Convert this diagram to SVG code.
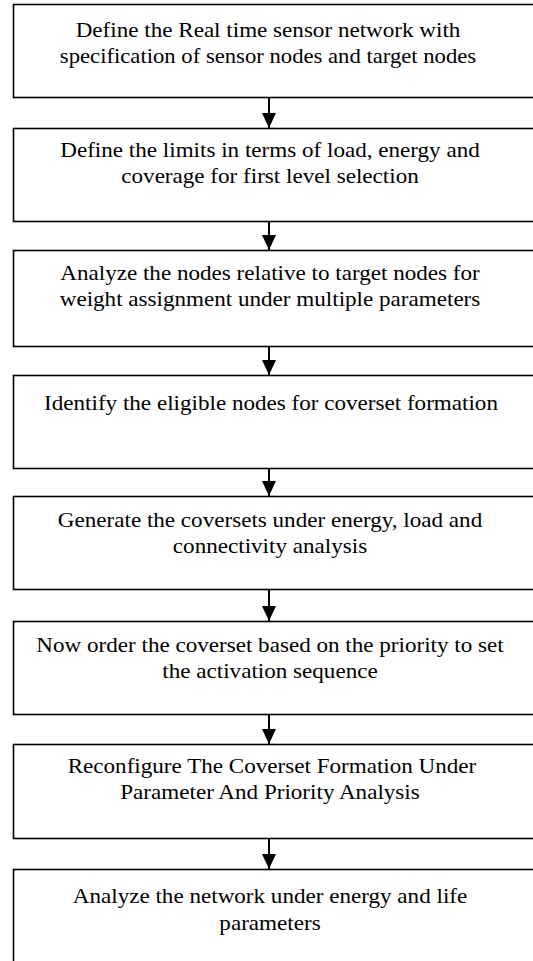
<svg xmlns="http://www.w3.org/2000/svg" width="533" height="961" viewBox="0 0 533 961">
<style>
.box{fill:#fff;stroke:#000;stroke-width:1.6}
.t{font-family:"Liberation Serif","Times New Roman",serif;font-size:21px;fill:#000;text-anchor:middle}
.c{stroke:#000;stroke-width:2;fill:none}
</style>
<defs>
<marker id="ah" markerWidth="15" markerHeight="14" refX="15" refY="7" orient="auto" markerUnits="userSpaceOnUse" viewBox="0 0 15 14">
<path d="M0,0 L15,7 L0,14 Z" fill="#000"/>
</marker>
</defs>
<rect width="533" height="961" fill="#fff"/>
<g id="n1"><rect class="box" x="13.5" y="4.5" width="540" height="93"/>
<text class="t" transform="translate(268,37) scale(1.1,1)">Define the Real time sensor network with</text>
<text class="t" transform="translate(268,63) scale(1.08,1)">specification of sensor nodes and target nodes</text></g>
<g id="n2"><rect class="box" x="13.5" y="128.5" width="540" height="93"/>
<text class="t" transform="translate(270,157) scale(1.1,1)">Define the limits in terms of load, energy and</text>
<text class="t" transform="translate(270,183) scale(1.1,1)">coverage for first level selection</text></g>
<g id="n3"><rect class="box" x="13.5" y="250.5" width="540" height="96"/>
<text class="t" transform="translate(270,280) scale(1.1,1)">Analyze the nodes relative to target nodes for</text>
<text class="t" transform="translate(270,306) scale(1.1,1)">weight assignment under multiple parameters</text></g>
<g id="n4"><rect class="box" x="13.5" y="375.5" width="540" height="93"/>
<text class="t" transform="translate(271,410) scale(1.1,1)">Identify the eligible nodes for coverset formation</text></g>
<g id="n5"><rect class="box" x="13.5" y="496.5" width="540" height="93"/>
<text class="t" transform="translate(270,527) scale(1.1,1)">Generate the coversets under energy, load and</text>
<text class="t" transform="translate(270,553) scale(1.1,1)">connectivity analysis</text></g>
<g id="n6"><rect class="box" x="13.5" y="621.5" width="540" height="93"/>
<text class="t" transform="translate(270,652) scale(1.1,1)">Now order the coverset based on the priority to set</text>
<text class="t" transform="translate(270,678) scale(1.1,1)">the activation sequence</text></g>
<g id="n7"><rect class="box" x="13.5" y="744.5" width="540" height="94"/>
<text class="t" transform="translate(272,773) scale(1.1,1)">Reconfigure The Coverset Formation Under</text>
<text class="t" transform="translate(270,799) scale(1.1,1)">Parameter And Priority Analysis</text></g>
<g id="n8"><rect class="box" x="13.5" y="869.5" width="540" height="100"/>
<text class="t" transform="translate(270,903) scale(1.1,1)">Analyze the network under energy and life</text>
<text class="t" transform="translate(270,930) scale(1.1,1)">parameters</text></g>
<g id="connectors">
<path class="c" d="M269,98 V128" marker-end="url(#ah)"/>
<path class="c" d="M269,222 V250" marker-end="url(#ah)"/>
<path class="c" d="M269,347 V375" marker-end="url(#ah)"/>
<path class="c" d="M269,469 V496" marker-end="url(#ah)"/>
<path class="c" d="M269,590 V621" marker-end="url(#ah)"/>
<path class="c" d="M269,715 V744" marker-end="url(#ah)"/>
<path class="c" d="M269,839 V869" marker-end="url(#ah)"/>
</g>
</svg>
